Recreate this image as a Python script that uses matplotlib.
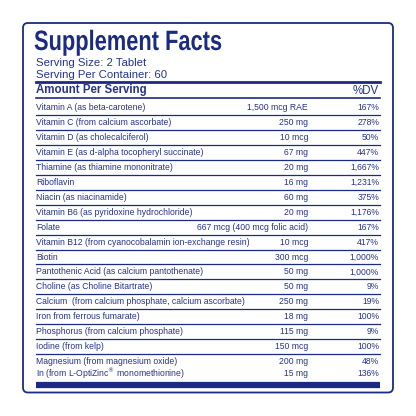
import matplotlib
matplotlib.use("Agg")
import matplotlib.pyplot as plt
from matplotlib.patches import FancyBboxPatch, PathPatch
from matplotlib.textpath import TextPath
from matplotlib.font_manager import FontProperties
from matplotlib.transforms import Affine2D

names = ["Vitamin A (as beta-carotene)", "Vitamin C (from calcium ascorbate)",
         "Vitamin D (as cholecalciferol)", "Vitamin E (as d-alpha tocopheryl succinate)",
         "Thiamine (as thiamine mononitrate)", "Riboflavin", "Niacin (as niacinamide)",
         "Vitamin B6 (as pyridoxine hydrochloride)", "Folate",
         "Vitamin B12 (from cyanocobalamin ion-exchange resin)", "Biotin",
         "Pantothenic Acid (as calcium pantothenate)", "Choline (as Choline Bitartrate)",
         "Calcium  (from calcium phosphate, calcium ascorbate)", "Iron from ferrous fumarate)",
         "Phosphorus (from calcium phosphate)", "Iodine (from kelp)",
         "Magnesium (from magnesium oxide)", "In (from L-OptiZinc$^{®}$ monomethionine)"]
amounts = ["1,500 mcg RAE", "250 mg", "10 mcg", "67 mg", "20 mg", "16 mg", "60 mg", "20 mg",
           "667 mcg (400 mcg folic acid)", "10 mcg", "300 mcg", "50 mg", "50 mg", "250 mg",
           "18 mg", "115 mg", "150 mcg", "200 mg", "15 mg"]
dvs = ["167%", "278%", "50%", "447%", "1,667%", "1,231%", "375%", "1,176%", "167%", "417%",
       "1,000%", "1,000%", "9%", "19%", "100%", "9%", "100%", "48%", "136%"]

NAVY = "#1b2a82"
TXT = "#26338c"
plt.rcParams['font.family'] = ['Liberation Sans', 'DejaVu Sans']

fig = plt.figure(figsize=(4.16, 4.16), dpi=100)
ax = fig.add_axes([0, 0, 1, 1])
ax.set_xlim(0, 416); ax.set_ylim(416, 0); ax.axis("off")

ax.add_patch(FancyBboxPatch((23, 23), 370, 369.5, boxstyle="round,pad=0,rounding_size=5",
                            fc="white", ec=NAVY, lw=1.3))
tp = TextPath((0, 0), "Supplement Facts", size=28,
              prop=FontProperties(family="Liberation Sans", weight="bold"))
tp = tp.transformed(Affine2D().scale(0.78, -1).translate(34, 50))
ax.add_patch(PathPatch(tp, fc=NAVY, ec="none"))
ax.text(36, 65.5, "Serving Size: 2 Tablet", fontsize=8.2, color=TXT, va="baseline")
ax.text(36, 77.5, "Serving Per Container: 60", fontsize=8.2, color=TXT, va="baseline")
ax.plot([36, 380], [81.5, 81.5], color=NAVY, lw=2)
ax.text(36, 93.5, "Amount Per Serving", fontsize=8.3, fontweight="bold", color=TXT, va="baseline")
ax.text(379, 93.5, "%DV", fontsize=8.3, color=TXT, ha="right", va="baseline")
ax.plot([36, 380], [98, 98], color=NAVY, lw=1.2)

y0, dy = 108, 14.9
for i, (n, a, d) in enumerate(zip(names, amounts, dvs)):
    y = y0 + i * dy if i < 18 else y0 + 17 * dy + 12.5
    ax.text(36, y, n, fontsize=6.2, color=TXT, va="center")
    ax.text(308, y, a, fontsize=6.2, color=TXT, va="center", ha="right")
    ax.text(379, y, d, fontsize=6.2, color=TXT, va="center", ha="right")
    if i < 17:
        ax.plot([36, 380], [y + dy / 2, y + dy / 2], color=NAVY, lw=0.9)
ax.plot([36, 380], [385, 385], color=NAVY, lw=4.5, solid_capstyle="butt")
fig.savefig("out.png", dpi=100)
